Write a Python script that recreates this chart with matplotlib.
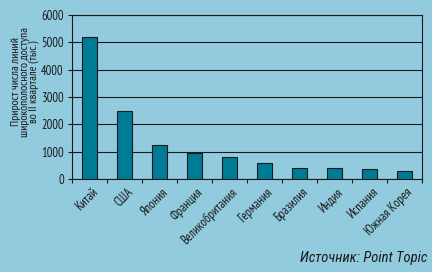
import matplotlib
matplotlib.use("Agg")
import matplotlib.pyplot as plt

categories = ["Китай", "США", "Япония", "Франция", "Великобритания", "Германия",
              "Бразилия", "Индия", "Испания", "Южная Корея"]
values = [5200, 2490, 1240, 950, 800, 585, 400, 400, 365, 295]
yticks = [0, 1000, 2000, 3000, 4000, 5000, 6000]

plt.rcParams['font.family'] = ['PT Sans Narrow', 'DejaVu Sans']

bg = "#92CBDE"
barc = "#007B96"
ink = "#1a1a1a"
fig = plt.figure(figsize=(4.32, 2.72), dpi=100, facecolor=bg)
ax = fig.add_axes([72/432, 1-179/272, 350/432, 164/272], facecolor=bg)

x = range(len(categories))
ax.bar(x, values, width=0.41, color=barc, edgecolor=ink, linewidth=0.8, zorder=3)
ax.set_xlim(-0.5, len(categories)-0.5)
ax.set_ylim(0, 6000)
ax.set_yticks(yticks)
ax.set_yticklabels([str(v) for v in yticks], fontsize=9, color=ink)
ax.yaxis.grid(True, color=ink, linewidth=0.8, zorder=0)
ax.set_xticks([i - 0.5 for i in range(len(categories)+1)])
ax.set_xticklabels([])
ax.tick_params(axis='x', direction='out', length=3, width=0.8, color=ink)
ax.tick_params(axis='y', direction='out', length=3, width=0.8, color=ink, pad=3)
for s in ax.spines.values():
    s.set_color(ink)
    s.set_linewidth(0.8)

for i, c in enumerate(categories):
    ax.text(i + 0.05, -250, c, rotation=45, ha='right', va='top', rotation_mode='anchor',
            fontsize=9, color=ink)

fig.text(25/432, 1-82/272, "Прирост числа линий\nширокополосного доступа\nво II квартале (тыс.)",
         rotation=90, ha='center', va='center', fontsize=8.5, color=ink, linespacing=0.85)
fig.text(427/432, 1-258/272, "Источник: Point Topic", ha='right', va='center',
         fontsize=10.5, style='italic', color=ink,
         family=['Roboto Condensed', 'Liberation Sans'])

fig.savefig("out.png", dpi=100, facecolor=bg)
